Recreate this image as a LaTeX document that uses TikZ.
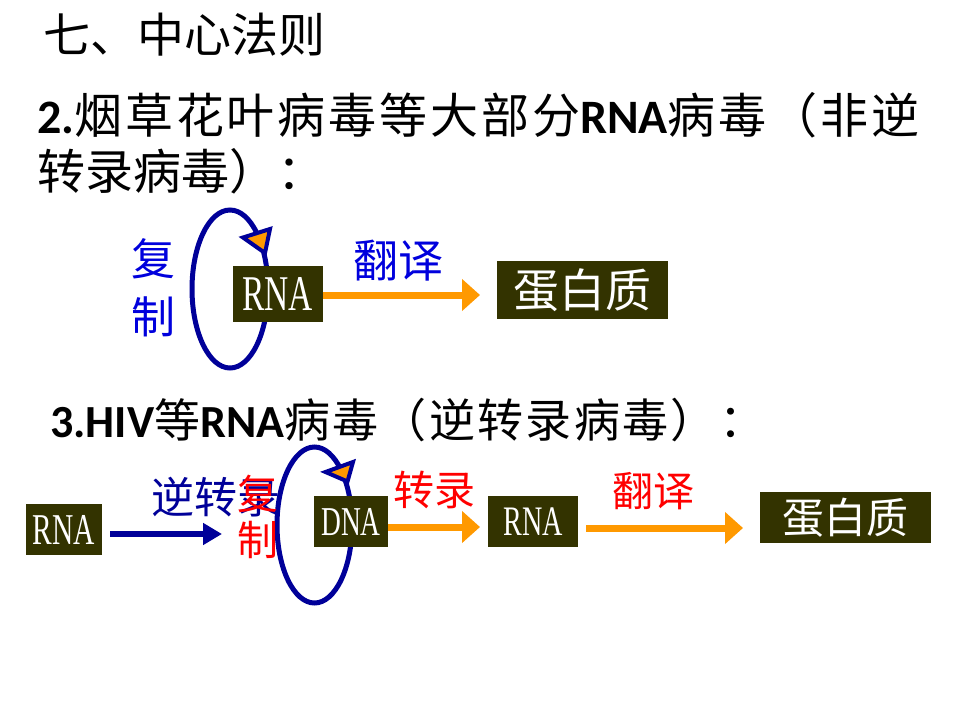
\documentclass[tikz,border=0pt]{standalone}
\usepackage{fontspec}
\usetikzlibrary{arrows.meta,shapes.geometric}
\newfontfamily\cjk{Noto Sans CJK SC}
\newfontfamily\cjkwide[LetterSpace=6]{Noto Sans CJK SC}
\newfontfamily\cjkmid[LetterSpace=5]{Noto Sans CJK SC}
\newfontfamily\latb{Carlito}
\newfontfamily\boxfont[FakeStretch=0.67]{Liberation Serif}
\definecolor{boxfill}{HTML}{333300}
\definecolor{navy}{HTML}{000099}
\definecolor{lblue}{HTML}{0000DD}
\definecolor{lred}{HTML}{FF0000}
\definecolor{orng}{HTML}{FF9900}
\newcommand\myfs[1]{\fontsize{#1}{#1}\selectfont}
\begin{document}
\begin{tikzpicture}[x=1pt,y=-1pt,
  box/.style={fill=boxfill,text=white,inner sep=0pt},
  heading/.style={anchor=base west,inner sep=0pt,text=black},
  loopring/.style={draw=navy,line width=5pt,ellipse,inner sep=0pt},
  headtri/.style={fill=orng,draw=navy,line width=4pt,line join=miter},
  oarrow/.style={draw=orng,line width=7pt,-{Triangle[length=18pt,width=31pt]}},
  barrow/.style={draw=navy,line width=6.5pt,-{Triangle[length=19pt,width=21pt]}},
  lbl/.style={inner sep=0pt,align=center}]
\useasboundingbox[fill=white] (0,0) rectangle (960,720);

% headings
\node[heading,font=\cjk\myfs{47}] (title) at (43,52) {七、中心法则};
\node[heading,font=\cjkwide\myfs{48}] (h2a) at (37,133) {{\latb\bfseries 2.}烟草花叶病毒等大部分{\latb\bfseries RNA}病毒（非逆};
\node[heading,font=\cjk\myfs{48}] (h2b) at (37,189) {转录病毒）：};
\node[heading,font=\cjkmid\myfs{46}] (h3) at (50,437) {{\latb\bfseries 3.HIV}等{\latb\bfseries RNA}病毒（逆转录病毒）：};

% diagram 1
\node[loopring,minimum width=76pt,minimum height=158pt] (loop1) at (230,289) {};
\draw[headtri] (270,229) -- (243,237.5) -- (265,253) -- cycle;
\node[box,minimum width=90pt,minimum height=56pt,font=\boxfont\myfs{50}] (rna1) at (277.5,294) {RNA};
\node[box,minimum width=171pt,minimum height=58pt,font=\cjk\myfs{46}] (prot1) at (582.5,290) {蛋白质};
\coordinate (t1) at (480,295);
\draw[oarrow] (rna1.east |- t1) -- (t1);
\node[lbl,text=lblue,font=\cjk\myfs{45}] (fy1) at (398.5,261) {翻译};
\node[lbl,text=lblue,font=\cjk\fontsize{44}{58}\selectfont] (fz1) at (153,288) {复\\制};

% diagram 2
\node[loopring,minimum width=75pt,minimum height=156pt] (loop2) at (314.5,525) {};
\draw[headtri] (353,462) -- (325.5,472) -- (347.5,481.5) -- cycle;
\node[box,minimum width=76pt,minimum height=51pt,font=\boxfont\myfs{44}] (rna2) at (64,529.5) {RNA};
\node[box,minimum width=74pt,minimum height=51pt,font=\boxfont\myfs{41}] (dna) at (351,521.5) {DNA};
\node[box,minimum width=90pt,minimum height=51pt,font=\boxfont\myfs{42}] (rna3) at (533,521.5) {RNA};
\node[box,minimum width=171pt,minimum height=51pt,font=\cjk\myfs{42}] (prot2) at (845.5,517.5) {蛋白质};
\coordinate (b0) at (110,534);
\coordinate (b1) at (222,534);
\draw[barrow] (b0) -- (b1);
\coordinate (t2) at (480,527);
\draw[oarrow] (dna.east |- t2) -- (t2);
\coordinate (s3) at (586,528);
\coordinate (t3) at (743,528);
\draw[oarrow] (s3) -- (t3);
\node[lbl,text=navy,font=\cjk\myfs{43}] (nzl) at (216,497) {逆转录};
\node[lbl,text=lred,font=\cjk\fontsize{41}{46}\selectfont] (fz2) at (258,517) {复\\制};
\node[lbl,text=lred,font=\cjk\myfs{41}] (zl) at (434,490) {转录};
\node[lbl,text=lred,font=\cjk\myfs{41}] (fy2) at (653,491.5) {翻译};
\end{tikzpicture}
\end{document}
